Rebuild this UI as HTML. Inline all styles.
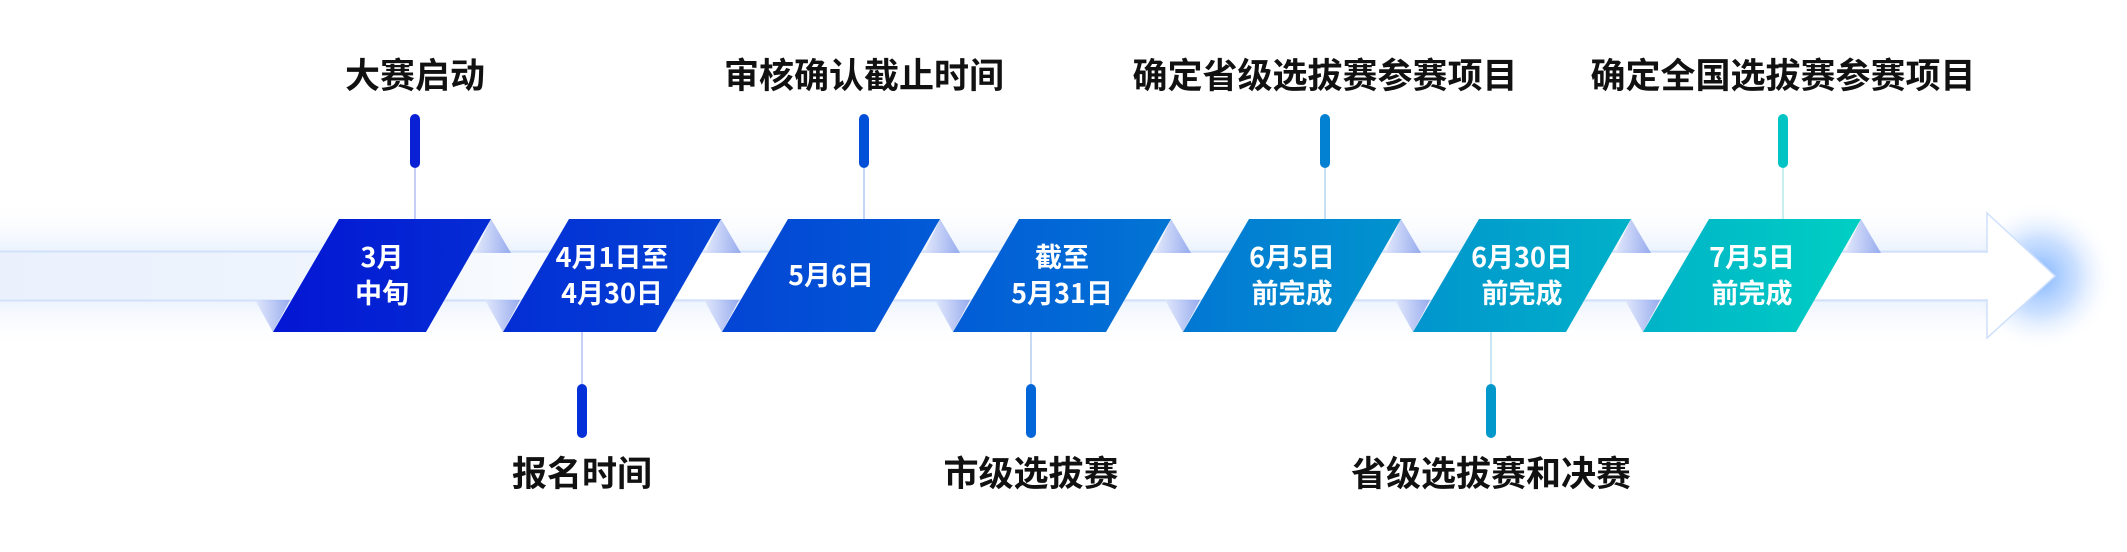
<!DOCTYPE html>
<html><head><meta charset="utf-8"><style>
html,body{margin:0;padding:0;background:#fff;width:2127px;height:552px;overflow:hidden}
svg{display:block}
.t{font-family:"Noto Sans CJK SC","Liberation Sans",sans-serif;font-weight:bold;font-size:35px;fill:#111;text-anchor:middle}
.w{font-family:"Noto Sans CJK SC","Liberation Sans",sans-serif;font-weight:bold;font-size:27px;fill:#fff;text-anchor:middle}
</style></head><body>
<svg width="2127" height="552" viewBox="0 0 2127 552">
<defs>
<linearGradient id="g" gradientUnits="userSpaceOnUse" x1="273" y1="0" x2="1862" y2="0">
<stop offset="0" stop-color="#0416d4"/><stop offset="0.5" stop-color="#0268d6"/><stop offset="1" stop-color="#00cfc3"/>
</linearGradient>
<linearGradient id="glowv" x1="0" y1="0" x2="0" y2="1">
<stop offset="0" stop-color="#ffffff" stop-opacity="0"/><stop offset="0.5" stop-color="#d6e5fb"/><stop offset="1" stop-color="#ffffff" stop-opacity="0"/>
</linearGradient>
<linearGradient id="band" gradientUnits="userSpaceOnUse" x1="0" y1="0" x2="700" y2="0">
<stop offset="0" stop-color="#eaf1fd"/><stop offset="0.4" stop-color="#eef4fd"/><stop offset="1" stop-color="#ffffff"/>
</linearGradient>
<radialGradient id="tip" cx="0.5" cy="0.5" r="0.5">
<stop offset="0" stop-color="#7fb4ff"/><stop offset="0.5" stop-color="#b7d4ff" stop-opacity="0.7"/><stop offset="1" stop-color="#fff" stop-opacity="0"/>
</radialGradient>
<linearGradient id="flap" x1="0" y1="0" x2="1" y2="0">
<stop offset="0" stop-color="#dfe6fb"/><stop offset="1" stop-color="#8aa0ec"/>
</linearGradient>
</defs>
<rect x="0" y="200" width="1990" height="150" fill="url(#glowv)"/>
<ellipse cx="2040" cy="276" rx="75" ry="75" fill="url(#tip)"/>
<rect x="0" y="253" width="1990" height="46" fill="url(#band)"/>
<line x1="0" y1="251.5" x2="1987" y2="251.5" stroke="#d2e1fa" stroke-width="2"/>
<line x1="0" y1="300.5" x2="1987" y2="300.5" stroke="#d2e1fa" stroke-width="2"/>
<polygon points="1987,213 2055,276 1987,338" fill="#fff" stroke="#cfe0fb" stroke-width="1.5"/>
<rect x="1984" y="253" width="4" height="46" fill="#fff"/>
<g fill="url(#flap)" opacity="0.85">
<polygon points="491,219 511,253 475,253"/><polygon points="255,300 290,300 273,332"/>
<polygon points="721,219 741,253 705,253"/><polygon points="485,300 520,300 503,332"/>
<polygon points="940,219 960,253 924,253"/><polygon points="704,300 739,300 722,332"/>
<polygon points="1171,219 1191,253 1155,253"/><polygon points="935,300 970,300 953,332"/>
<polygon points="1401,219 1421,253 1385,253"/><polygon points="1165,300 1200,300 1183,332"/>
<polygon points="1631,219 1651,253 1615,253"/><polygon points="1395,300 1430,300 1413,332"/>
<polygon points="1861,219 1881,253 1845,253"/><polygon points="1625,300 1660,300 1643,332"/>
</g>
<g fill="url(#g)">
<polygon points="339,219 491,219 426,332 273,332"/>
<polygon points="569,219 721,219 656,332 503,332"/>
<polygon points="788,219 940,219 875,332 722,332"/>
<polygon points="1019,219 1171,219 1106,332 953,332"/>
<polygon points="1249,219 1401,219 1336,332 1183,332"/>
<polygon points="1479,219 1631,219 1566,332 1413,332"/>
<polygon points="1709,219 1861,219 1796,332 1643,332"/>
</g>
<g stroke-width="1">
<line x1="415" y1="168" x2="415" y2="219" stroke="#8d9cf0"/>
<line x1="864" y1="168" x2="864" y2="219" stroke="#8daaf0"/>
<line x1="1325" y1="168" x2="1325" y2="219" stroke="#8ec0ea"/>
<line x1="1783" y1="168" x2="1783" y2="219" stroke="#8ee0dd"/>
<line x1="582" y1="332" x2="582" y2="384" stroke="#8da2f0"/>
<line x1="1031" y1="332" x2="1031" y2="384" stroke="#8db6ee"/>
<line x1="1491" y1="332" x2="1491" y2="384" stroke="#8ecde8"/>
</g>
<rect x="410" y="114" width="10" height="54" rx="5" fill="#0a20d4"/>
<rect x="859" y="114" width="10" height="54" rx="5" fill="#0350d8"/>
<rect x="1320" y="114" width="10" height="54" rx="5" fill="#0280d2"/>
<rect x="1778" y="114" width="10" height="54" rx="5" fill="#00c4c4"/>
<rect x="577" y="384" width="10" height="54" rx="5" fill="#0330d8"/>
<rect x="1026" y="384" width="10" height="54" rx="5" fill="#0266d8"/>
<rect x="1486" y="384" width="10" height="54" rx="5" fill="#0398cc"/>
<text class="t" x="415" y="88">大赛启动</text>
<text class="t" x="864" y="88">审核确认截止时间</text>
<text class="t" x="1325" y="88">确定省级选拔赛参赛项目</text>
<text class="t" x="1783" y="88">确定全国选拔赛参赛项目</text>
<text class="t" x="582" y="486">报名时间</text>
<text class="t" x="1031" y="486">市级选拔赛</text>
<text class="t" x="1491" y="486">省级选拔赛和决赛</text>
<text class="w" x="382" y="267">3月</text><text class="w" x="382" y="303">中旬</text>
<text class="w" x="612" y="267">4月1日至</text><text class="w" x="612" y="303">4月30日</text>
<text class="w" x="831" y="285">5月6日</text>
<text class="w" x="1062" y="267">截至</text><text class="w" x="1062" y="303">5月31日</text>
<text class="w" x="1292" y="267">6月5日</text><text class="w" x="1292" y="303">前完成</text>
<text class="w" x="1522" y="267">6月30日</text><text class="w" x="1522" y="303">前完成</text>
<text class="w" x="1752" y="267">7月5日</text><text class="w" x="1752" y="303">前完成</text>
</svg>
</body></html>
